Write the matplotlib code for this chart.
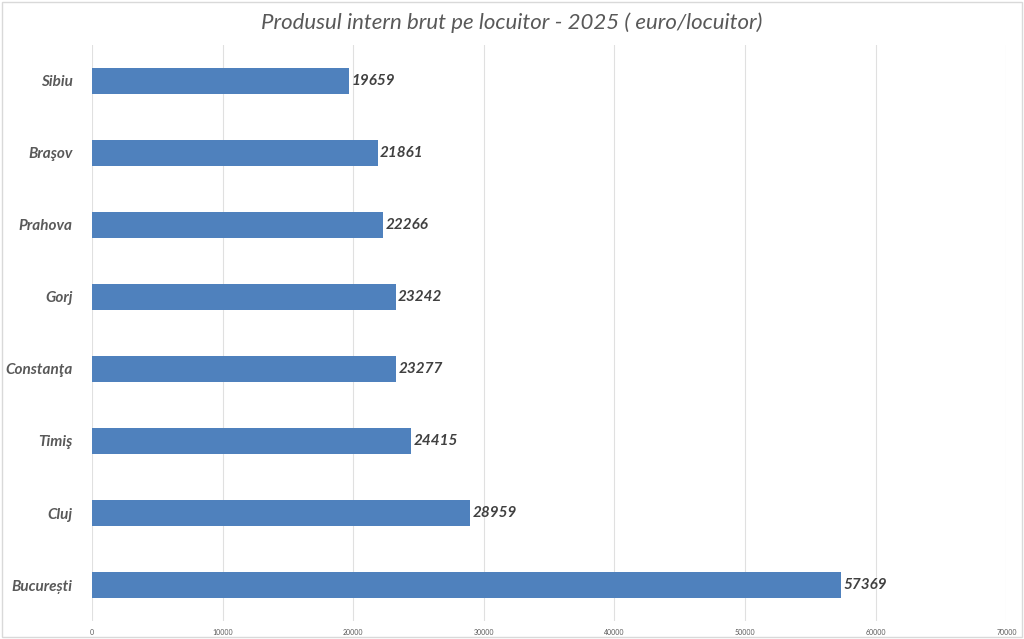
import matplotlib.pyplot as plt

judete = ["București", "Cluj", "Timiş", "Constanţa", "Gorj", "Prahova", "Braşov", "Sibiu"]
pib = [57369, 28959, 24415, 23277, 23242, 22266, 21861, 19659]

plt.rcParams['font.family'] = ['Lato', 'DejaVu Sans']

fig = plt.figure(figsize=(10.24, 6.39), dpi=100)
ax = fig.add_axes([0.0898, 0.028, 0.893, 0.902])

pos = range(len(judete))
ax.barh(pos, pib, height=0.36, color="#4f81bd", zorder=2)
for i, v in enumerate(pib):
    ax.text(v + 200, i, str(v), va="center", ha="left", fontsize=11,
            fontweight="bold", fontstyle="italic", color="#404040")

ax.set_ylim(-0.5, len(judete) - 0.5)
ax.set_xlim(0, 70000)
ax.set_xticks(range(0, 70001, 10000))
ax.tick_params(axis="x", labelsize=5, colors="#595959", length=0, pad=6)
ax.set_yticks(list(pos))
ax.set_yticklabels(judete, fontsize=11, fontweight="bold", fontstyle="italic", color="#595959")
ax.tick_params(axis="y", length=0, pad=14)
ax.grid(axis="x", color="#e0e0e0", linewidth=0.8, zorder=0)
for s in ax.spines.values():
    s.set_visible(False)

fig.text(0.5, 0.965, "Produsul intern brut pe locuitor - 2025 ( euro/locuitor)",
         ha="center", va="center", fontsize=16, fontstyle="italic", color="#595959")
fig.patches.append(plt.Rectangle((0.002, 0.003), 0.996, 0.994, transform=fig.transFigure,
                                 fill=False, edgecolor="#d9d9d9", linewidth=1))

fig.savefig("out.png", dpi=100)
